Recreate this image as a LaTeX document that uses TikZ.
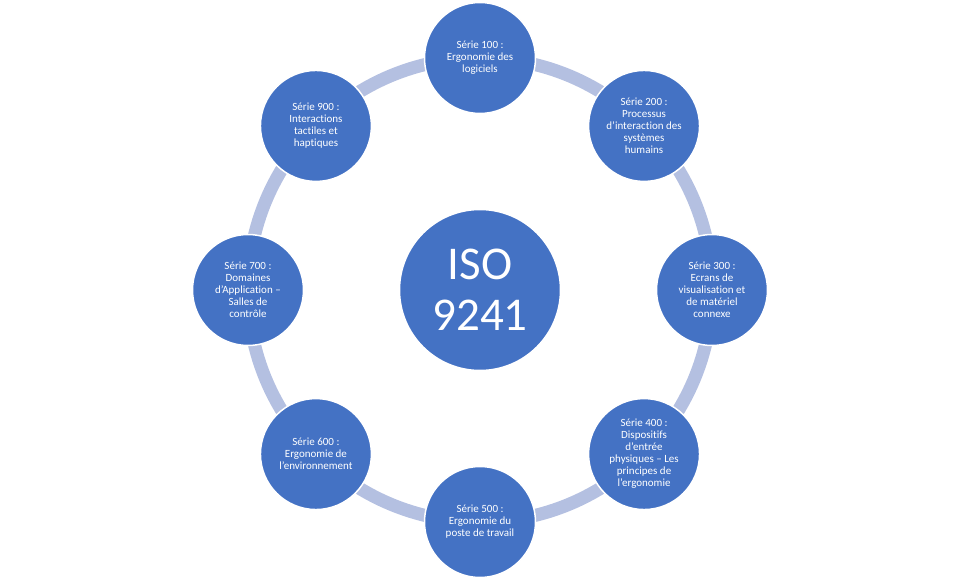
\documentclass[tikz,border=0pt]{standalone}
\usepackage{fontspec}
\setmainfont[Ligatures=NoCommon]{Carlito}
\usepackage{tikz}
\usetikzlibrary{positioning,calc}

\definecolor{isoBlue}{RGB}{68,114,196}
\definecolor{ringBlue}{RGB}{180,192,225}

\begin{document}
\begin{tikzpicture}[
    font=\fontsize{11}{12}\selectfont,
    ring/.style={draw=ringBlue, line width=13pt},
    hubNode/.style={
        circle, fill=isoBlue, draw=white, line width=1.5pt,
        minimum size=161pt, inner sep=0pt, align=center, text=white,
        font=\fontsize{47}{51}\selectfont
    },
    serie/.style={
        circle, fill=isoBlue, draw=white, line width=1.5pt,
        minimum size=111pt, inner sep=0pt, align=center, text=white
    }
]
\useasboundingbox (-480pt,-290pt) rectangle (480pt,290pt);

% Ring
\coordinate (hub) at (0,0);
\draw[ring] (hub) circle[radius=232pt];

% Centre
\node[hubNode] (iso) at (hub) {ISO\\9241};

% Series
\node[serie] (s100) at (90:232pt) {Série 100 :\\Ergonomie des\\logiciels};
\node[serie] (s200) at (45:232pt) {Série 200 :\\Processus\\d’interaction des\\systèmes\\humains};
\node[serie] (s300) at (0:232pt) {Série 300 :\\Ecrans de\\visualisation et\\de matériel\\connexe};
\node[serie] (s400) at (-45:232pt) {Série 400 :\\Dispositifs\\d’entrée\\physiques – Les\\principes de\\l’ergonomie};
\node[serie] (s500) at (-90:232pt) {Série 500 :\\Ergonomie du\\poste de travail};
\node[serie] (s600) at (-135:232pt) {Série 600 :\\Ergonomie de\\l’environnement};
\node[serie] (s700) at (180:232pt) {Série 700 :\\Domaines\\d’Application –\\Salles de\\contrôle};
\node[serie] (s900) at (135:232pt) {Série 900 :\\Interactions\\tactiles et\\haptiques};

\end{tikzpicture}
\end{document}
